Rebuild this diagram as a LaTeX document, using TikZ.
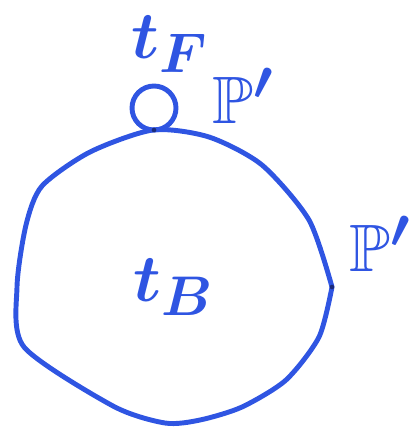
\documentclass[tikz,border=0pt]{standalone}
\usepackage{amssymb}
\usetikzlibrary{positioning}
\definecolor{penBlue}{HTML}{2F55E2}
\definecolor{penDark}{HTML}{1A2A7A}
\tikzset{
  ink/.style={draw=penBlue, line width=4.2pt, line cap=round, line join=round},
  lbl/.style={text=penBlue, font=\Huge\boldmath, scale=2.3, inner sep=0pt},
  touch/.style={circle, fill=penDark, inner sep=0pt, minimum size=4pt},
}
\begin{document}
\begin{tikzpicture}[x=0.03cm, y=-0.03cm]
        \useasboundingbox (0,0) rectangle (418,428);
        % Hauptkoerper
        \draw[ink] plot[smooth, tension=0.45] coordinates {
          (332,287) (319,337) (286,380) (242,407) (200,420) (165,423)
          (113,406) (24,347) (17,287) (26,225) (42,186)
          (90,152) (153,130) (209,137) (262,165) (309,220) (332,287)};
        % kleiner Kreis oben
        \draw[ink] (154,108) circle (22);
        \coordinate (topTouch) at (154,130);
        \coordinate (rightKink) at (332,287);
        \node[touch] at (topTouch) {};
        \node[touch] at (rightKink) {};
        % Beschriftung
        \node[lbl] (tF) at (170,44) {$t_F$};
        \node[lbl] (pTop) at (243,96) {$\mathbb{P}'$};
        \node[lbl] (pRight) at (380,244) {$\mathbb{P}'$};
        \node[lbl] (tB) at (174,287) {$t_B$};
\end{tikzpicture}
\end{document}
